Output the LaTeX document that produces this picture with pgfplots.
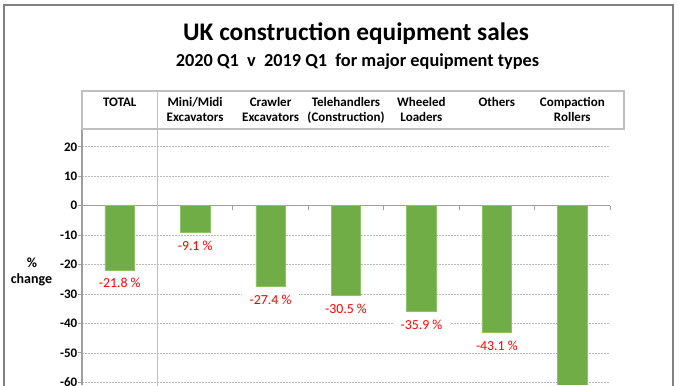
\documentclass[border=0pt]{standalone}
\usepackage{pgfplots}
\pgfplotsset{compat=1.18}
\usepackage{fontspec}
\setmainfont{Carlito}
\definecolor{bargreen}{RGB}{112,173,71}
\definecolor{baredge}{RGB}{140,195,100}
\begin{document}
\begin{tikzpicture}[x=1pt,y=1pt]
\clip (0,0) rectangle (679,385);
\fill[white] (0,0) rectangle (679,385);
\begin{axis}[
  at={(82pt,0pt)}, anchor=south west,
  scale only axis, width=528pt, height=255.8pt,
  xmin=-0.5, xmax=6.5, ymin=-60.88, ymax=25.98,
  axis y line*=left, axis x line*=middle,
  hide obscured x ticks=false, hide obscured y ticks=false,
  ytick={-60,-50,...,20},
  xtick={0.5,1.5,...,6.5}, xticklabels={},
  ymajorgrids,
  grid style={gray!55, dash pattern=on 2pt off 1pt, line width=0.7pt},
  axis line style={gray!75, line width=1.2pt},
  tick style={gray!75, line width=1pt},
  major tick length=4.5pt, tick align=outside,
  /pgf/number format/assume math mode=true,
  yticklabel style={font=\fontsize{13}{15}\selectfont\bfseries, inner sep=0pt, anchor=east},
  clip=true,
]
\addplot[ybar, bar width=29.5pt, bar shift=0pt, fill=bargreen, draw=baredge, line width=0.6pt,
  point meta=explicit symbolic,
  nodes near coords={\pgfplotspointmeta\ \%},
  every node near coord/.append style={font=\fontsize{13.8}{15}\selectfont, text=red, fill=white, draw=none,
    inner xsep=8pt, inner ysep=1.5pt, anchor=north, yshift=-6.5pt}]
  coordinates {(0,-21.8) [-21.8] (1,-9.1) [-9.1] (2,-27.4) [-27.4] (3,-30.5) [-30.5] (4,-35.9) [-35.9] (5,-43.1) [-43.1]};
\addplot[ybar, bar width=29.5pt, bar shift=0pt, fill=bargreen, draw=baredge, line width=0.6pt]
  coordinates {(6,-66.5)};
\end{axis}
% separator and header table
\draw[gray!50, line width=1.2pt] (157.5,294) -- (157.5,-5);
\draw[gray!50, line width=1.6pt] (82,294) rectangle (624,255.8);
\begin{scope}[every node/.style={anchor=base, inner sep=0pt, font=\fontsize{13}{15}\selectfont\bfseries}]
\node at (119.7,278) {TOTAL};
\node at (195.1,278) {Mini/Midi};
\node at (195.1,263) {Excavators};
\node at (270.6,278) {Crawler};
\node at (270.6,263) {Excavators};
\node at (346.0,278) {Telehandlers};
\node at (346.0,263) {(Construction)};
\node at (421.4,278) {Wheeled};
\node at (421.4,263) {Loaders};
\node at (496.9,278) {Others};
\node at (572.3,278) {Compaction};
\node at (572.3,263) {Rollers};
\end{scope}
% titles
\node[anchor=base, inner sep=0pt, font=\fontsize{25.3}{29}\selectfont\bfseries] at (356,344) {UK construction equipment sales};
\node[anchor=base, inner sep=0pt, font=\fontsize{18.3}{22}\selectfont\bfseries] at (357.5,318) {2020 Q1\ \ v\ \ 2019 Q1\ \ for major\ equipment types};
% y label
\node[anchor=base, inner sep=0pt, font=\fontsize{14}{16}\selectfont\bfseries] at (32,117) {\%};
\node[anchor=base, inner sep=0pt, font=\fontsize{14}{16}\selectfont\bfseries] at (31.5,101) {change};
% outer frame
\draw[gray, line width=2pt] (3.7,-10) -- (3.7,380) -- (673,380) -- (673,-10);
\end{tikzpicture}
\end{document}
